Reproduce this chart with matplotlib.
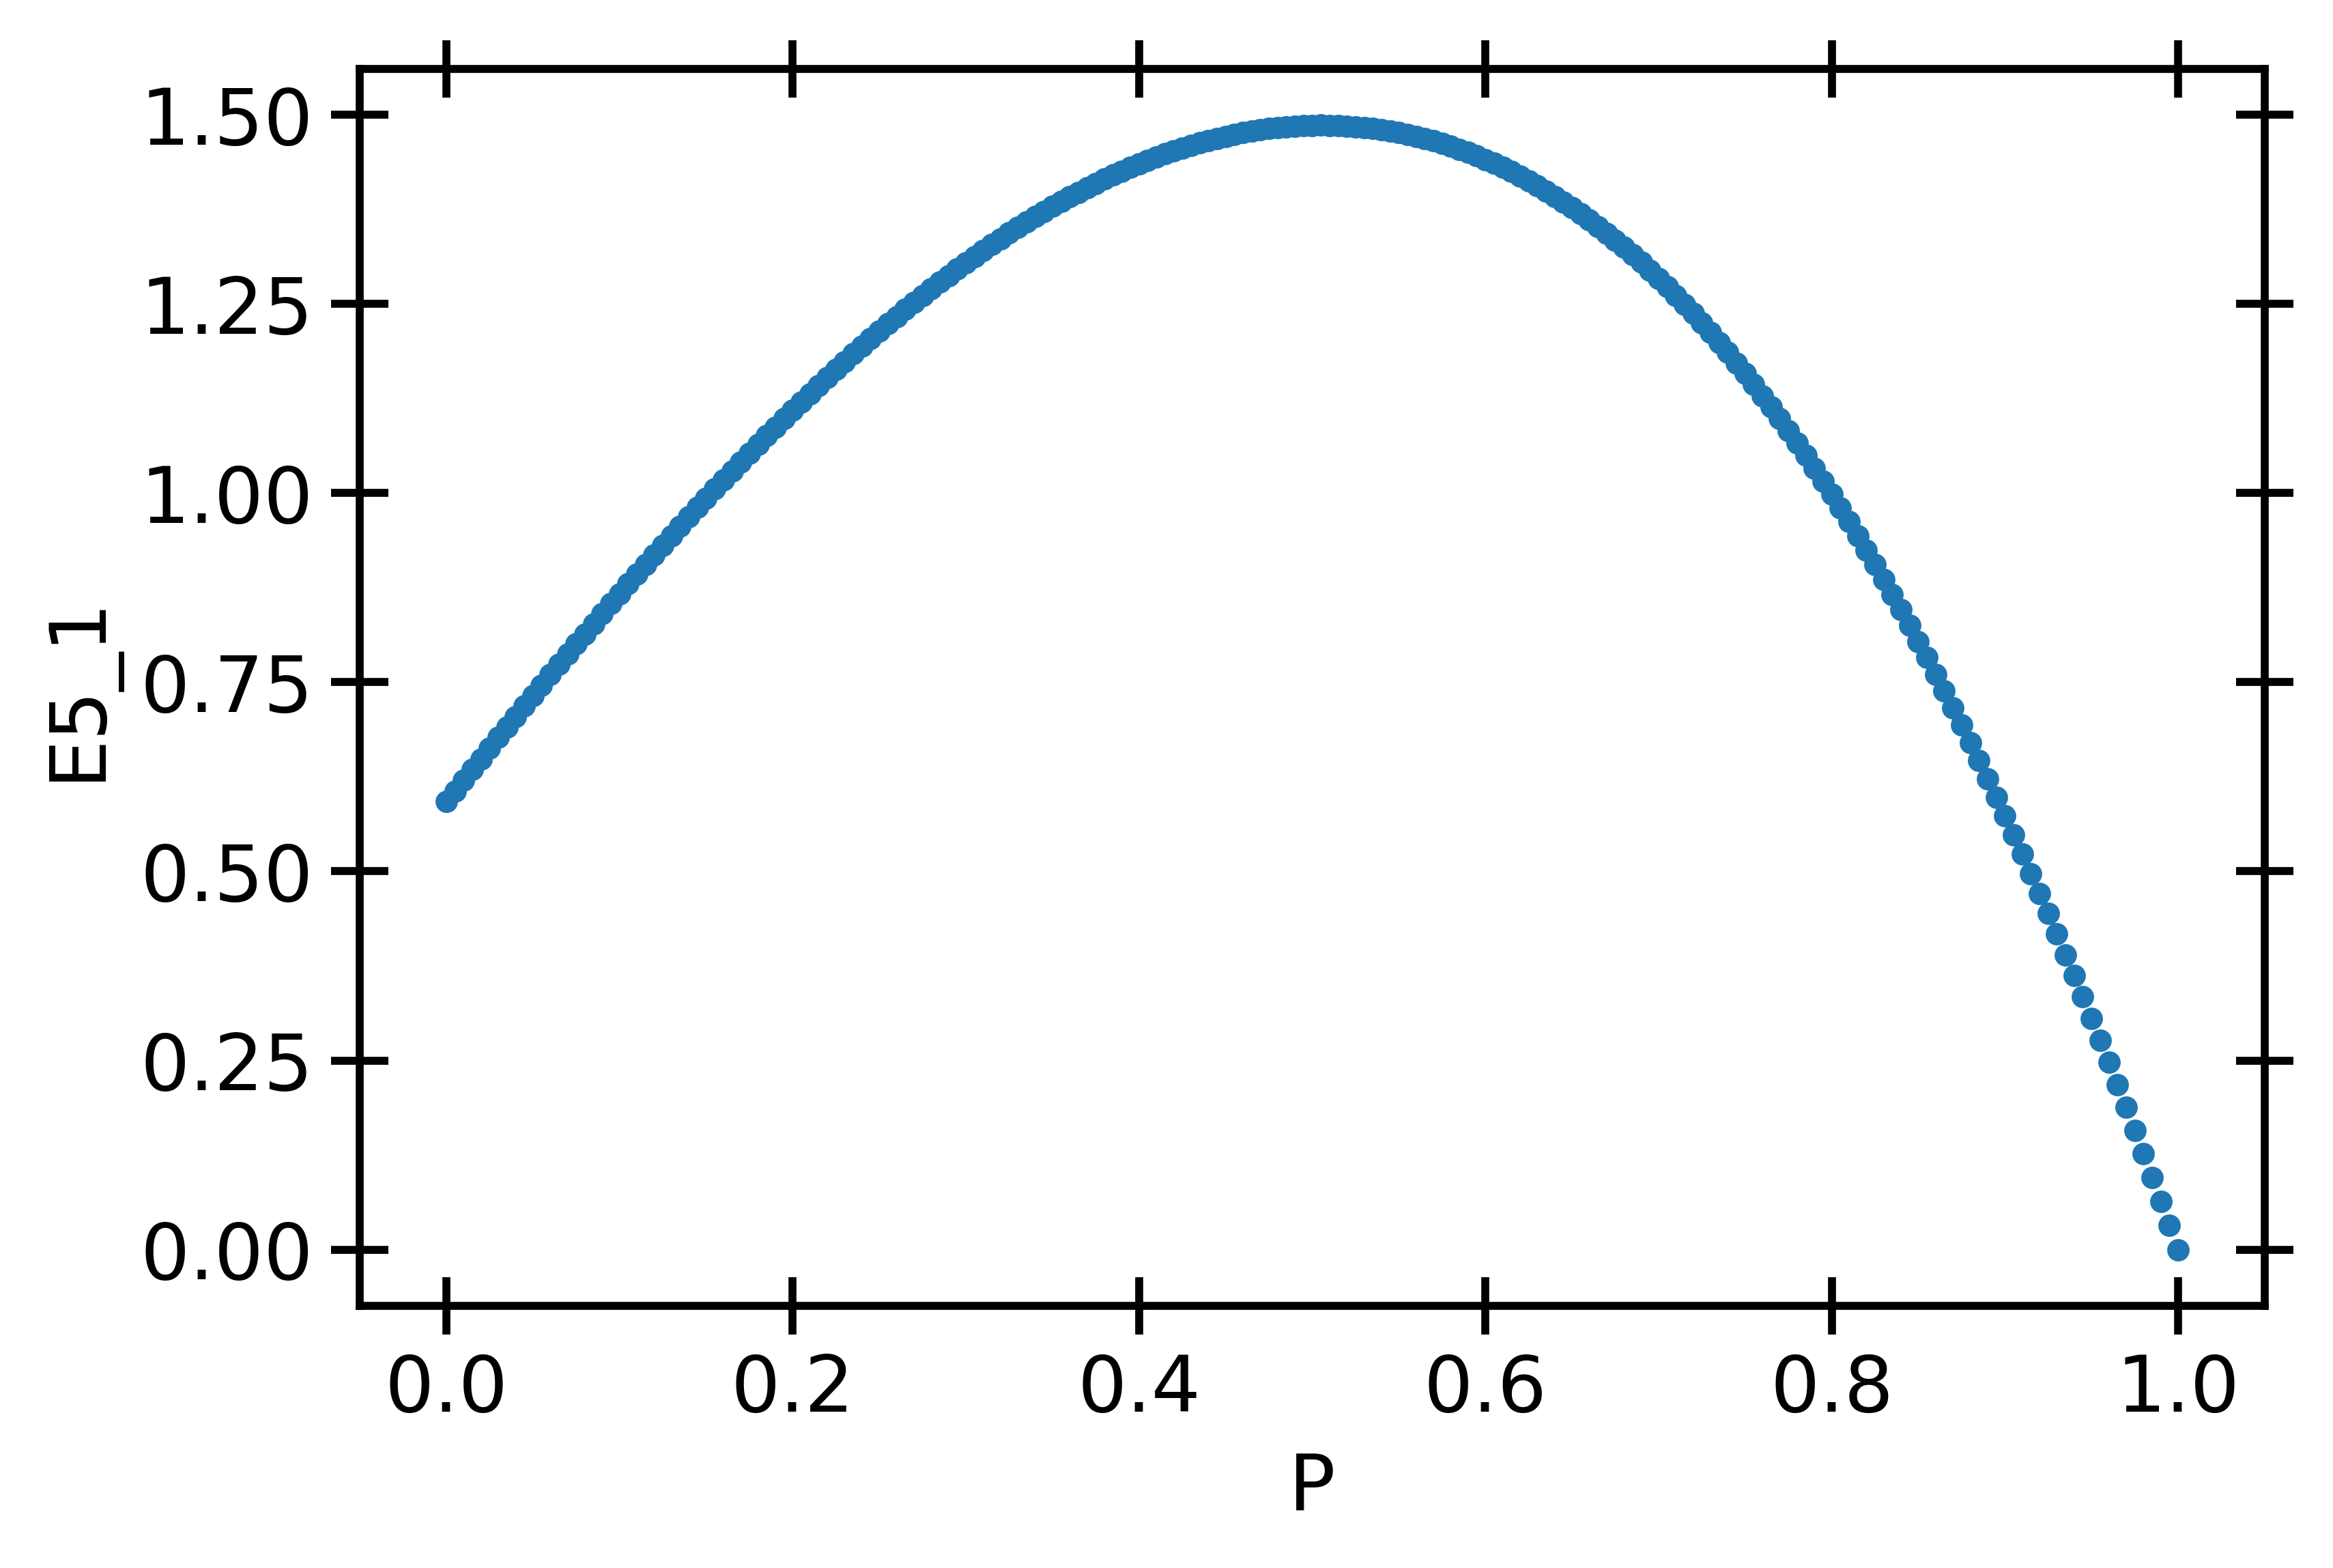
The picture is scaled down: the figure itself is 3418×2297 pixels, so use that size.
import numpy as np
import matplotlib
matplotlib.use('Agg')
import matplotlib.pyplot as plt

# P sampled on a regular grid of 201 points (step 0.005)
p = np.linspace(0.0, 1.0, 201)

# E5_1, one value per dot
e5_1 = [
    0.5920, 0.6063, 0.6205, 0.6346, 0.6488, 0.6628, 0.6768, 0.6908, 0.7047, 0.7186,
    0.7324, 0.7462, 0.7598, 0.7735, 0.7870, 0.8005, 0.8139, 0.8272, 0.8405, 0.8537,
    0.8668, 0.8798, 0.8928, 0.9057, 0.9184, 0.9311, 0.9437, 0.9562, 0.9686, 0.9810,
    0.9932, 1.0053, 1.0174, 1.0293, 1.0411, 1.0528, 1.0644, 1.0758, 1.0872, 1.0985,
    1.1096, 1.1206, 1.1315, 1.1423, 1.1529, 1.1634, 1.1738, 1.1840, 1.1942, 1.2041,
    1.2140, 1.2237, 1.2333, 1.2427, 1.2520, 1.2611, 1.2700, 1.2789, 1.2875, 1.2960,
    1.3044, 1.3126, 1.3206, 1.3285, 1.3362, 1.3437, 1.3511, 1.3583, 1.3653, 1.3721,
    1.3788, 1.3853, 1.3916, 1.3977, 1.4036, 1.4094, 1.4149, 1.4203, 1.4254, 1.4304,
    1.4352, 1.4398, 1.4442, 1.4483, 1.4523, 1.4560, 1.4596, 1.4629, 1.4660, 1.4689,
    1.4716, 1.4741, 1.4763, 1.4783, 1.4801, 1.4817, 1.4830, 1.4841, 1.4850, 1.4856,
    1.4860, 1.4862, 1.4861, 1.4857, 1.4852, 1.4843, 1.4832, 1.4819, 1.4803, 1.4785,
    1.4764, 1.4741, 1.4714, 1.4686, 1.4654, 1.4620, 1.4583, 1.4543, 1.4501, 1.4456,
    1.4408, 1.4357, 1.4304, 1.4248, 1.4188, 1.4126, 1.4061, 1.3993, 1.3922, 1.3849,
    1.3772, 1.3692, 1.3610, 1.3524, 1.3435, 1.3343, 1.3248, 1.3149, 1.3048, 1.2944,
    1.2836, 1.2725, 1.2611, 1.2494, 1.2373, 1.2249, 1.2122, 1.1991, 1.1858, 1.1720,
    1.1580, 1.1436, 1.1288, 1.1137, 1.0983, 1.0825, 1.0664, 1.0499, 1.0331, 1.0159,
    0.9984, 0.9805, 0.9623, 0.9438, 0.9248, 0.9055, 0.8859, 0.8659, 0.8456, 0.8249,
    0.8038, 0.7824, 0.7606, 0.7385, 0.7159, 0.6931, 0.6698, 0.6462, 0.6222, 0.5979,
    0.5732, 0.5481, 0.5226, 0.4968, 0.4706, 0.4440, 0.4171, 0.3898, 0.3621, 0.3340,
    0.3056, 0.2767, 0.2474, 0.2178, 0.1878, 0.1574, 0.1267, 0.0956, 0.0641, 0.0322,
    0.0000,
]

DPI = 400
fig = plt.figure(figsize=(3418 / DPI, 2297 / DPI), dpi=DPI)
ax = fig.add_axes([0.1542, 0.1672, 0.8165, 0.7888])

ax.scatter(p, e5_1, s=35, color='#1f77b4', linewidths=0)

ax.set_xlabel('P', fontsize=20.5, labelpad=6)
ax.set_ylabel('E5_1', fontsize=20.5, labelpad=6)

for spine in ax.spines.values():
    spine.set_linewidth(2.1)
ax.tick_params(which='major', direction='inout', length=15, width=2.1,
               top=True, right=True, labelsize=20.5, pad=4.8)

fig.savefig('out.png', dpi=DPI)
